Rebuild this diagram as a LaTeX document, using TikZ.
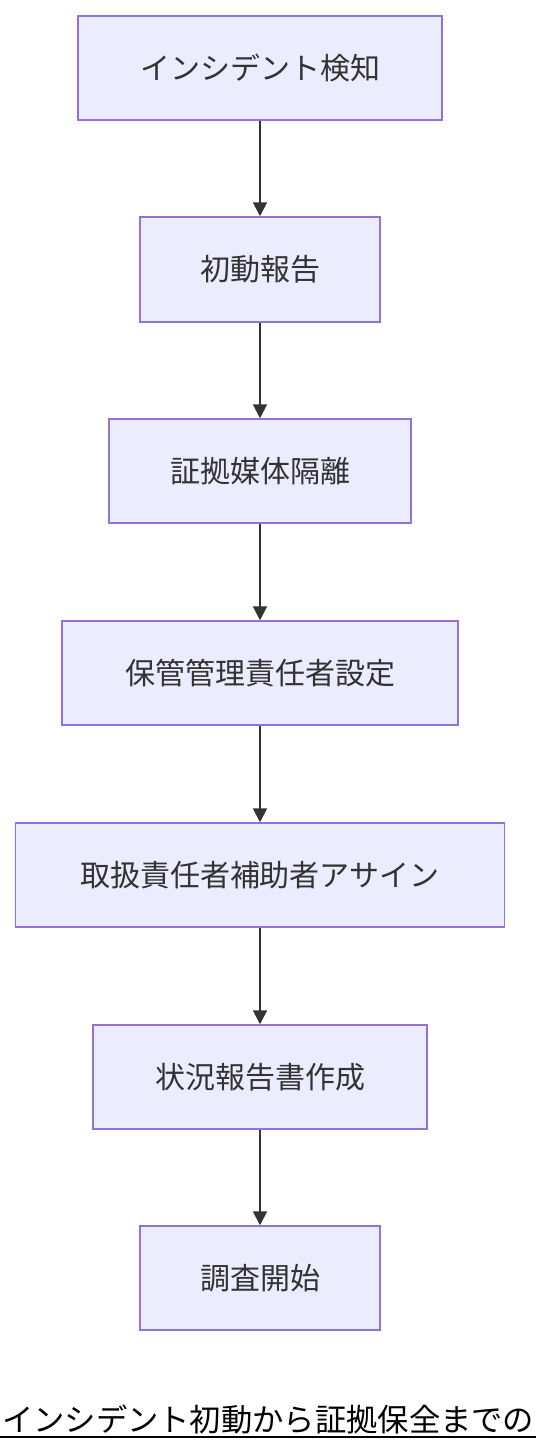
\documentclass[tikz,border=0pt]{standalone}
\usepackage{fontspec}
\setmainfont{Noto Sans CJK JP}
\usetikzlibrary{arrows.meta}
\definecolor{boxfill}{HTML}{ECECFF}
\definecolor{boxline}{HTML}{9370DB}
\definecolor{ink}{HTML}{333333}
\tikzset{
  stepbox/.style={draw=boxline, fill=boxfill, line width=1.5pt, inner sep=0pt,
    text=ink, font=\fontsize{30}{36}\selectfont, anchor=center},
  flow/.style={draw=ink, line width=2pt, -{Triangle[length=14pt,width=14pt]}},
}
\begin{document}
\begin{tikzpicture}[x=1pt,y=-1pt]
\useasboundingbox (0,0) rectangle (536,1452);
\fill[white] (0,0) rectangle (536,1452);
\node[stepbox, minimum width=364pt, minimum height=104pt] (n1) at (260,68) {インシデント検知};
\node[stepbox, minimum width=240pt, minimum height=105pt] (n2) at (260,269.5) {初動報告};
\node[stepbox, minimum width=302pt, minimum height=104pt] (n3) at (260,471) {証拠媒体隔離};
\node[stepbox, minimum width=396pt, minimum height=104pt] (n4) at (260,673) {保管管理責任者設定};
\node[stepbox, minimum width=489pt, minimum height=104pt] (n5) at (260,875) {取扱責任者補助者アサイン};
\node[stepbox, minimum width=334pt, minimum height=104pt] (n6) at (260,1077) {状況報告書作成};
\node[stepbox, minimum width=240pt, minimum height=104pt] (n7) at (260,1278) {調査開始};
\draw[flow] (n1) -- (n2);
\draw[flow] (n2) -- (n3);
\draw[flow] (n3) -- (n4);
\draw[flow] (n4) -- (n5);
\draw[flow] (n5) -- (n6);
\draw[flow] (n6) -- (n7);
\node[anchor=base west, inner sep=0pt, text=black, font=\fontsize{31.3}{36}\selectfont] (cap) at (2,1431) {インシデント初動から証拠保全までの};
\draw[black, line width=2.5pt] (0,1437) -- (536,1437);
\end{tikzpicture}
\end{document}
